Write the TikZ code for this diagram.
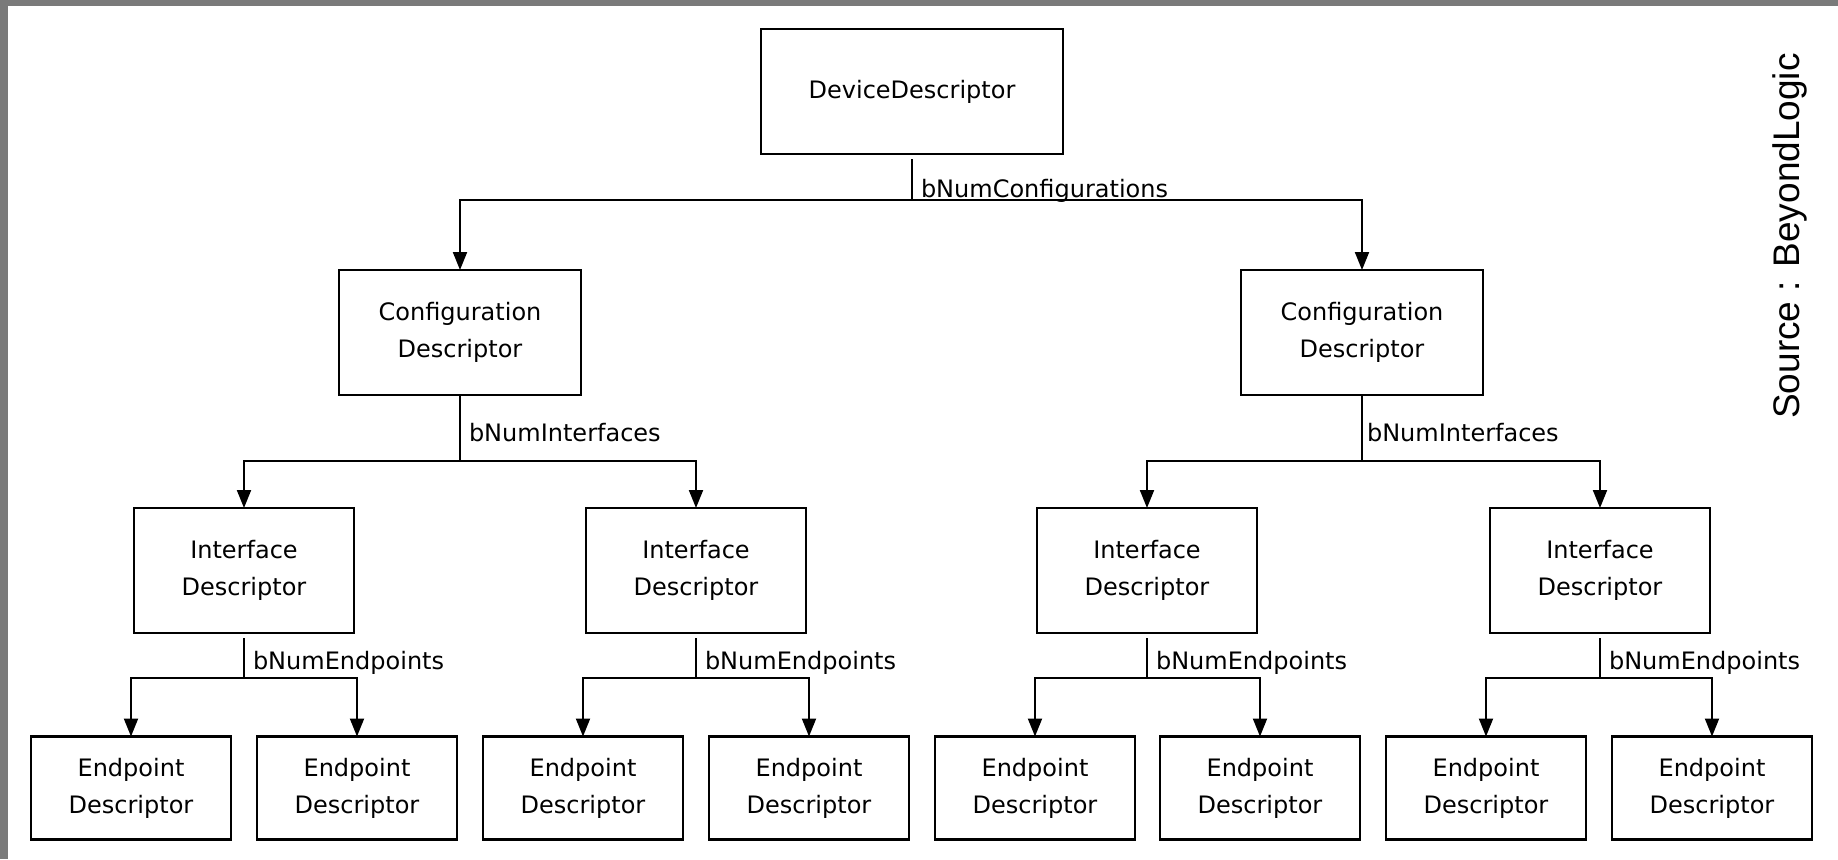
\documentclass[tikz,border=0pt]{standalone}
\usepackage{fontspec}
\setmainfont{DejaVu Sans}
\newfontfamily\srcfont{Liberation Sans}
\usetikzlibrary{arrows.meta}
\definecolor{framegray}{HTML}{7A7A7A}
\definecolor{framedark}{HTML}{1E1E1E}

\begin{document}
\begin{tikzpicture}[x=0.5pt,y=-0.5pt,>={Triangle[width=7pt,length=9pt]},
                        desc/.style={draw,line width=1.4pt,align=center,inner sep=0pt,outer sep=0pt,
                            font=\fontsize{12}{18.5}\selectfont},
                        devbox/.style={desc,minimum width=151pt,minimum height=62.5pt},
                        cfgbox/.style={desc,minimum width=121pt,minimum height=62.5pt},
                        ifbox/.style={desc,minimum width=110pt,minimum height=62.5pt},
                        epbox/.style={desc,minimum width=100pt,minimum height=51.5pt},
                        link/.style={line width=1pt},
                        lbl/.style={anchor=base west,xshift=4pt,inner sep=0pt,font=\fontsize{12}{14}\selectfont}]
                        \useasboundingbox (0,0) rectangle (1838,859);
                        \shade[left color=framegray,middle color=framedark,right color=framegray] (0,0) rectangle (1838,5);
                        \fill[framegray] (0,0) rectangle (8,859);
                        \node[rotate=90,font=\srcfont\fontsize{18.5}{22}\selectfont] (src) at (1790,236) {Source : BeyondLogic};
                        \node[devbox] (dev) at (912,91.5) {DeviceDescriptor};
                        \node[cfgbox] (cfgL) at (460,332.5) {Configuration\\Descriptor};
                        \node[cfgbox] (cfgR) at (1362,332.5) {Configuration\\Descriptor};
                        \node[ifbox] (ifA) at (244,570.5) {Interface\\Descriptor};
                        \node[ifbox] (ifB) at (696,570.5) {Interface\\Descriptor};
                        \node[ifbox] (ifC) at (1147,570.5) {Interface\\Descriptor};
                        \node[ifbox] (ifD) at (1600,570.5) {Interface\\Descriptor};
                        \foreach \x [count=\i] in {131,357,583,809,1035,1260,1486,1712}
                            \node[epbox] (ep\i) at (\x,788) {Endpoint\\Descriptor};
                        \coordinate (jDev) at (912,200);
                        \draw[link,shorten <=2.5pt] (dev.south) -- (jDev) node[lbl,yshift=1.5pt] {bNumConfigurations};
                        \draw[link,->] (jDev) -| (cfgL.north);
                        \draw[link,->] (jDev) -| (cfgR.north);
                        \coordinate (jCfgL) at (460,461);
                        \coordinate (jCfgR) at (1362,461);
                        \draw[link] (cfgL.south) -- (jCfgL) node[lbl,yshift=10pt] {bNumInterfaces};
                        \draw[link] (cfgR.south) -- (jCfgR) node[lbl,yshift=10pt,xshift=-2pt] {bNumInterfaces};
                        \draw[link,->] (jCfgL) -| (ifA.north);
                        \draw[link,->] (jCfgL) -| (ifB.north);
                        \draw[link,->] (jCfgR) -| (ifC.north);
                        \draw[link,->] (jCfgR) -| (ifD.north);
                        \foreach \f/\l/\r in {A/1/2,B/3/4,C/5/6,D/7/8} {
                            \coordinate (jIf\f) at (if\f.south |- 0,678);
                            \draw[link,shorten <=2.5pt] (if\f.south) -- (jIf\f) node[lbl,yshift=4.5pt] {bNumEndpoints};
                            \draw[link,->] (jIf\f) -| (ep\l.north);
                            \draw[link,->] (jIf\f) -| (ep\r.north);
                        }
                    \end{tikzpicture}
\end{document}
